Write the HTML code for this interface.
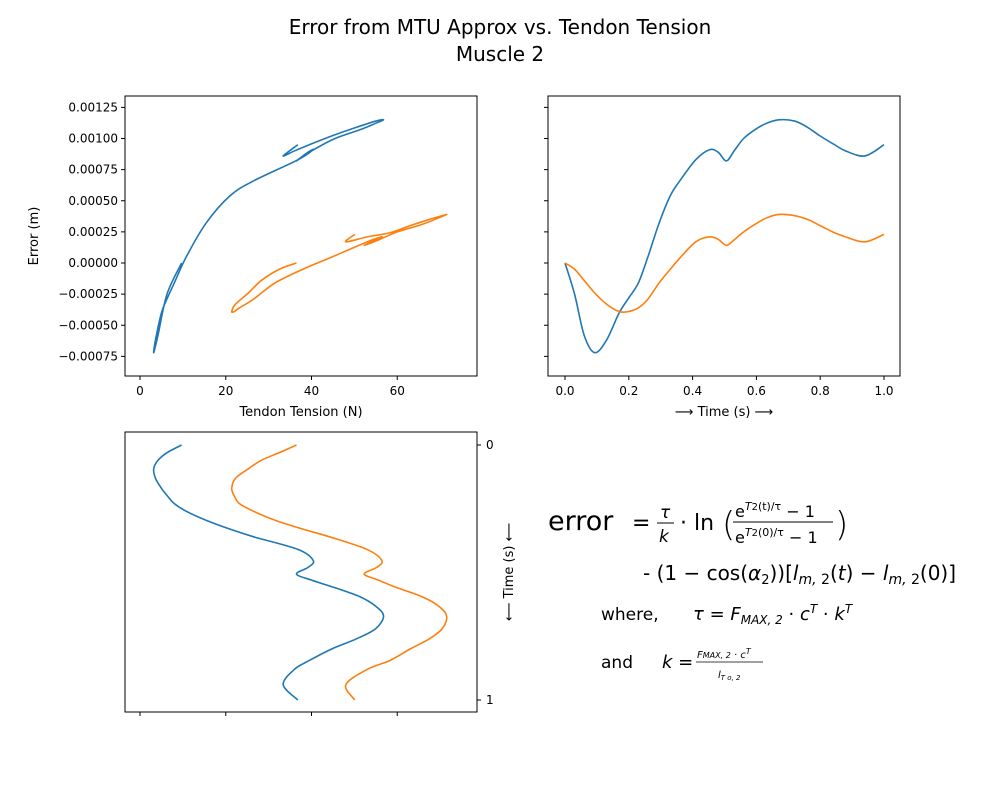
<!DOCTYPE html>
<html><head><meta charset="utf-8"><style>
body{margin:0;background:#fff}
svg{font-family:"DejaVu Sans","Liberation Sans",sans-serif}
</style></head><body>
<svg id="chart" width="1000" height="800" xmlns="http://www.w3.org/2000/svg">
<text x="500" y="34" font-size="20" text-anchor="middle">Error from MTU Approx vs. Tendon Tension</text>
<text x="500" y="61" font-size="20" text-anchor="middle">Muscle 2</text>
<g id="g"></g>
<g font-size="20">
<text x="548" y="530" font-size="27">error</text>
<text x="632" y="530" font-size="22">=</text>
<text x="660" y="518" font-size="17" font-style="italic">τ</text>
<line x1="657" y1="523" x2="674" y2="523" stroke="#000" stroke-width="1"/>
<text x="659" y="542" font-size="17" font-style="italic">k</text>
<text x="680" y="530" font-size="22">· ln</text>
<text x="722" y="536" font-size="34" font-weight="100">(</text>
<text x="735" y="517" font-size="16">e<tspan font-style="italic" font-size="11" dy="-7">T</tspan><tspan font-size="10">2</tspan><tspan font-size="11">(t)/τ</tspan><tspan dy="7"> − 1</tspan></text>
<line x1="733" y1="522" x2="833" y2="522" stroke="#000" stroke-width="1"/>
<text x="735" y="543" font-size="16">e<tspan font-style="italic" font-size="11" dy="-7">T</tspan><tspan font-size="10">2</tspan><tspan font-size="11">(0)/τ</tspan><tspan dy="7"> − 1</tspan></text>
<text x="835" y="536" font-size="34" font-weight="100">)</text>
<text x="643" y="580">- (1 − cos(<tspan font-style="italic">α</tspan><tspan font-size="13" dy="4">2</tspan><tspan dy="-4">))[</tspan><tspan font-style="italic">l</tspan><tspan font-style="italic" font-size="14" dy="4">m,</tspan><tspan font-size="14"> 2</tspan><tspan dy="-4">(</tspan><tspan font-style="italic">t</tspan>) − <tspan font-style="italic">l</tspan><tspan font-style="italic" font-size="14" dy="4">m,</tspan><tspan font-size="14"> 2</tspan><tspan dy="-4">(0)]</tspan></text>
<text x="601" y="620" font-size="17">where,</text>
<text x="693" y="620" font-size="18"><tspan font-style="italic">τ</tspan> = <tspan font-style="italic">F</tspan><tspan font-style="italic" font-size="12" dy="4">MAX, 2</tspan><tspan dy="-4"> · </tspan><tspan font-style="italic">c</tspan><tspan font-style="italic" font-size="12" dy="-7">T</tspan><tspan dy="7"> · </tspan><tspan font-style="italic">k</tspan><tspan font-style="italic" font-size="12" dy="-7">T</tspan></text>
<text x="601" y="668" font-size="17">and</text>
<text x="662" y="668" font-size="18"><tspan font-style="italic">k</tspan> =</text>
<text x="697" y="658" font-size="10" font-style="italic">F<tspan font-size="8">MAX, 2</tspan> · c<tspan font-size="8" dy="-4">T</tspan></text>
<line x1="696" y1="662" x2="763" y2="662" stroke="#000" stroke-width="0.8"/>
<text x="718" y="678" font-size="10" font-style="italic">l<tspan font-size="7" dy="2">T o, 2</tspan></text>
</g>
</svg>
<script>
const times=[0,0.03,0.06,0.093,0.13,0.17,0.2,0.23,0.26,0.295,0.33,0.36,0.41,0.453,0.48,0.506,0.53,0.56,0.595,0.63,0.67,0.72,0.76,0.8,0.845,0.88,0.94,1.0];
const error1=[0,-0.00025,-0.00058,-0.00072,-0.00062,-0.0004,-0.00028,-0.00016,0.00005,0.00032,0.00054,0.00066,0.00083,0.00091,0.00089,0.00082,0.0009,0.001,0.00107,0.00112,0.00115,0.00114,0.00109,0.00102,0.00095,0.0009,0.00086,0.00095];
const error2=[0,-0.00005,-0.00014,-0.00024,-0.00033,-0.00039,-0.00039,-0.00036,-0.00029,-0.00016,-0.00005,0.00004,0.00017,0.00021,0.00019,0.000142,0.000185,0.00025,0.00031,0.00036,0.00039,0.00038,0.00035,0.0003,0.000243,0.00021,0.00017,0.00023];
const tension1=[9.7,6.3,4.2,3.2,3.6,5.0,6.4,8.0,10.8,15.4,21,26.5,36.9,40.4,39.2,36.5,40,45.5,51.3,54.8,56.8,55,50.5,44.7,39.5,36,33.4,36.8];
const tension2=[36.5,32.5,28.3,25.3,22.3,21.4,22,23.2,26.5,31.5,38,44.2,53,56.4,55.2,52.3,55.6,60,65.8,69.5,71.5,70.5,67.5,63,58.3,53,48,50.1];
const tensionTicks=[0,20,40,60];
const errorTicks=[-0.00075,-0.0005,-0.00025,0,0.00025,0.0005,0.00075,0.001,0.00125];
const errorTickLabels=["−0.00075","−0.00050","−0.00025","0.00000","0.00025","0.00050","0.00075","0.00100","0.00125"];
const timeTicks=[0,0.2,0.4,0.6,0.8,1.0];
const timeTickLabels=["0.0","0.2","0.4","0.6","0.8","1.0"];
const NS="http://www.w3.org/2000/svg";
const g=document.getElementById('g');
function mk(t,a,p){const e=document.createElementNS(NS,t);for(const k in a)e.setAttribute(k,a[k]);(p||g).appendChild(e);return e;}
const xT=v=>140+(v)*4.2875;
const yE=v=>263-v*124500;
const xTime=v=>565+v*319;
const yTime=v=>445+v*255;
function smooth(pts){let d=`M${pts[0][0]},${pts[0][1]}`;for(let i=0;i<pts.length-1;i++){const p0=pts[Math.max(0,i-1)],p1=pts[i],p2=pts[i+1],p3=pts[Math.min(pts.length-1,i+2)];d+=` C${p1[0]+(p2[0]-p0[0])/6},${p1[1]+(p2[1]-p0[1])/6} ${p2[0]-(p3[0]-p1[0])/6},${p2[1]-(p3[1]-p1[1])/6} ${p2[0]},${p2[1]}`;}return d;}
function panel(name,x,y,w,h){const cp=name+'-clip';const c=mk('clipPath',{id:cp});mk('rect',{x,y,width:w,height:h},c);
return mk('g',{'clip-path':`url(#${cp})`});}
function frame(name,x,y,w,h){const r=mk('rect',{x,y,width:w,height:h,fill:'none',stroke:'#000','stroke-width':1});

}
function line(grp,pts,color,name){const p=mk('path',{d:smooth(pts),fill:'none',stroke:color,'stroke-width':1.6,'stroke-linejoin':'round'},grp);

}
const B='#1f77b4',O='#ff7f0e';
let p1=panel('p1',125,96,352,280);
line(p1,times.map((t,i)=>[xT(tension1[i]),yE(error1[i])]),B,'error-vs-tension-line-1');
line(p1,times.map((t,i)=>[xT(tension2[i]),yE(error2[i])]),O,'error-vs-tension-line-2');
frame('error-vs-tension-axes',125,96,352,280);
tensionTicks.forEach(v=>{mk('line',{x1:xT(v),x2:xT(v),y1:376,y2:380,stroke:'#000'});
const t=mk('text',{x:xT(v),y:395,'font-size':12,'text-anchor':'middle'});t.textContent=v;


mk('line',{x1:xT(v),x2:xT(v),y1:712,y2:716,stroke:'#000'});});
errorTicks.forEach((v,i)=>{mk('line',{x1:121,x2:125,y1:yE(v),y2:yE(v),stroke:'#000'});
const t=mk('text',{x:118,y:yE(v)+4,'font-size':12,'text-anchor':'end'});t.textContent=errorTickLabels[i];


mk('line',{x1:544,x2:548,y1:yE(v),y2:yE(v),stroke:'#000'});});
let t1=mk('text',{x:301,y:416,'font-size':13,'text-anchor':'middle'});t1.textContent='Tendon Tension (N)';


let t2=mk('text',{x:38,y:236,'font-size':13,'text-anchor':'middle',transform:'rotate(-90 38 236)'});t2.textContent='Error (m)';


let p2=panel('p2',548,96,352,280);
line(p2,times.map((t,i)=>[xTime(t),yE(error1[i])]),B,'error-vs-time-line-1');
line(p2,times.map((t,i)=>[xTime(t),yE(error2[i])]),O,'error-vs-time-line-2');
frame('error-vs-time-axes',548,96,352,280);
timeTicks.forEach((v,i)=>{mk('line',{x1:xTime(v),x2:xTime(v),y1:376,y2:380,stroke:'#000'});
const t=mk('text',{x:xTime(v),y:395,'font-size':12,'text-anchor':'middle'});t.textContent=timeTickLabels[i];

});
let t3=mk('text',{x:724,y:416,'font-size':13,'text-anchor':'middle'});t3.textContent='⟶  Time (s)  ⟶';


let p3=panel('p3',125,432,352,280);
line(p3,times.map((t,i)=>[xT(tension1[i]),yTime(t)]),B,'tension-vs-time-line-1');
line(p3,times.map((t,i)=>[xT(tension2[i]),yTime(t)]),O,'tension-vs-time-line-2');
frame('tension-vs-time-axes',125,432,352,280);
[0,1].forEach(v=>{mk('line',{x1:477,x2:481,y1:yTime(v),y2:yTime(v),stroke:'#000'});
const t=mk('text',{x:486,y:yTime(v)+4,'font-size':12});t.textContent=v;

});
let t4=mk('text',{x:513,y:572,'font-size':13,'text-anchor':'middle',transform:'rotate(-90 513 572)'});t4.textContent='⟵  Time (s)  ⟵';


</script>
</body></html>
